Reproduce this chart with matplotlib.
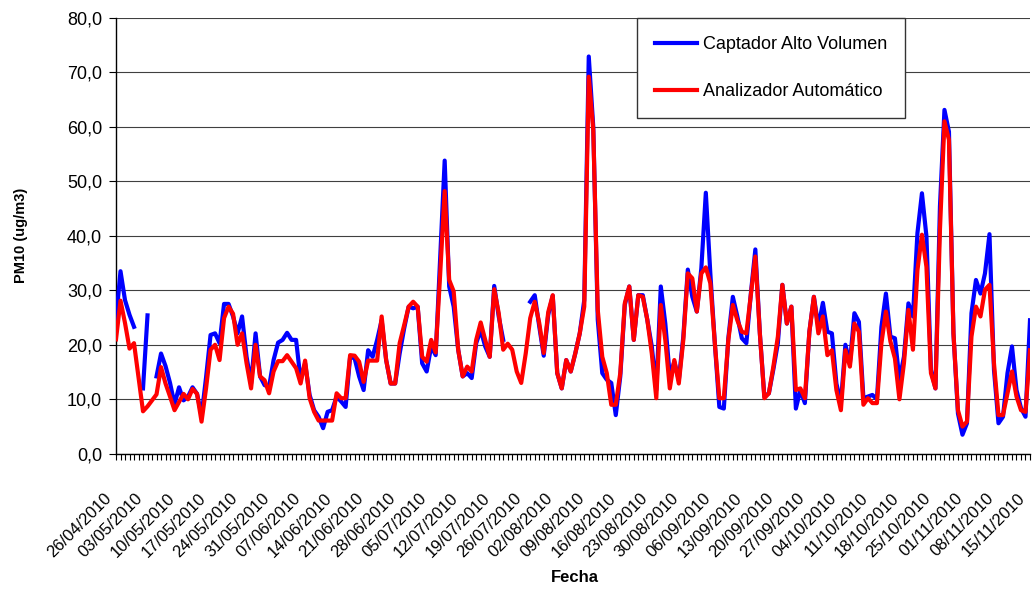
import matplotlib
matplotlib.use('Agg')
import matplotlib.pyplot as plt
import matplotlib.transforms as mtransforms
import numpy as np
import pandas as pd

START_DATE = '2010-04-26'

# PM10 daily values (None = no sample that day)
captador = [
    24.5, 33.5, 28.2, 25.5, 23.3, None, 12.0, 25.4, None, 14.2,
    18.4, 16.1, 13.0, 9.1, 12.2, 9.8, 10.5, 12.2, 11.0, 7.0,
    14.0, 21.8, 22.1, 20.3, 27.5, 27.5, 25.2, 22.1, 25.2, 17.8,
    12.9, 22.1, 14.2, 12.6, 12.3, 17.2, 20.4, 20.9, 22.2, 20.9,
    20.9, 13.5, 16.6, 10.8, 8.0, 6.8, 4.7, 7.7, 8.0, 10.5,
    9.6, 8.6, 17.8, 17.5, 14.2, 11.7, 19.0, 17.8, 20.9, 24.5,
    17.2, 12.9, 12.9, 18.4, 23.0, 27.0, 26.7, 27.0, 16.6, 15.1,
    19.7, 18.1, 36.0, 53.8, 30.7, 27.0, 19.1, 14.2, 14.8, 13.9,
    20.3, 22.7, 19.7, 17.8, 30.8, 25.2, 20.9, None, None, None,
    None, None, 27.9, 29.1, 23.4, 18.0, 25.5, 29.0, 14.8, 12.0,
    17.2, 15.1, 18.4, 22.1, 28.2, 72.9, 60.0, 24.6, 14.8, 13.6,
    13.0, 7.1, 14.2, 27.3, 30.7, 20.9, 29.1, 29.1, 24.6, 19.7,
    11.7, 30.7, 23.9, 14.2, 16.9, 13.5, 21.5, 33.8, 28.8, 26.1,
    34.0, 47.9, 33.1, 20.3, 8.6, 8.3, 21.2, 28.8, 25.2, 21.2,
    20.3, 29.4, 37.5, 22.1, 10.5, 11.1, 15.5, 20.3, 31.0, 23.9,
    27.0, 8.3, 11.7, 9.3, 22.4, 28.8, 23.3, 27.7, 22.4, 22.1,
    12.9, 9.3, 20.0, 16.6, 25.8, 24.2, 10.2, 10.5, 10.8, 10.0,
    23.3, 29.4, 21.5, 21.2, 13.6, 17.8, 27.6, 25.2, 40.5, 47.8,
    39.9, 15.4, 12.0, 45.4, 63.1, 59.1, 22.1, 7.4, 3.5, 5.6,
    25.8, 31.9, 29.4, 33.1, 40.3, 15.4, 5.6, 6.8, 14.8, 19.7,
    11.7, 8.4, 6.8, 24.5,
]

analizador = [
    21.0, 28.1, 24.0, 19.3, 20.3, 14.0, 7.8, 8.7, 9.8, 10.9,
    15.9, 12.9, 10.5, 8.0, 9.5, 11.0, 10.0, 11.9, 11.0, 5.9,
    12.0, 19.1, 20.0, 17.2, 24.9, 27.0, 25.7, 20.0, 22.1, 16.6,
    12.0, 20.0, 14.2, 13.5, 11.1, 15.1, 17.0, 17.0, 18.1, 16.9,
    15.7, 12.9, 17.1, 10.2, 7.7, 6.1, 6.1, 6.1, 6.1, 11.1,
    10.2, 10.2, 18.1, 18.0, 16.9, 13.2, 17.1, 17.1, 17.1, 25.2,
    17.2, 12.9, 12.9, 20.3, 23.6, 27.0, 27.9, 27.0, 17.8, 16.9,
    20.9, 18.6, 33.0, 48.2, 31.9, 29.8, 19.1, 14.2, 16.0, 15.1,
    20.9, 24.1, 20.9, 17.8, 30.2, 25.8, 19.1, 20.2, 19.1, 15.1,
    13.0, 18.4, 24.9, 27.9, 24.0, 18.5, 26.0, 29.1, 14.8, 12.0,
    17.2, 15.1, 18.4, 22.1, 27.0, 69.2, 59.4, 26.4, 17.8, 14.8,
    9.0, 9.0, 14.8, 27.6, 30.7, 20.9, 29.1, 28.8, 24.6, 18.4,
    10.2, 27.3, 20.9, 12.0, 17.2, 12.9, 20.9, 33.1, 32.2, 26.1,
    33.1, 34.2, 31.3, 20.3, 10.2, 10.2, 20.9, 27.3, 24.5, 22.4,
    22.1, 29.1, 36.2, 22.1, 10.2, 11.1, 16.0, 21.5, 31.0, 23.9,
    27.0, 11.7, 12.0, 10.2, 22.4, 28.8, 22.1, 25.2, 18.1, 19.0,
    11.7, 8.0, 19.0, 16.0, 23.9, 22.4, 9.0, 10.2, 9.3, 9.3,
    20.3, 26.1, 20.6, 17.5, 10.0, 16.6, 26.4, 19.1, 33.7, 40.2,
    34.3, 14.8, 12.0, 41.1, 61.0, 57.6, 22.1, 8.0, 5.0, 5.9,
    21.5, 27.0, 25.2, 30.1, 31.0, 16.6, 7.1, 7.1, 11.1, 15.1,
    10.5, 8.0, 7.7, 19.0,
]

series_names = ['Captador Alto Volumen', 'Analizador Automático']
series_colors = ['#0000ff', '#ff0000']
y_ticks = np.arange(0, 81, 10)

dates = pd.date_range(START_DATE, periods=len(captador), freq='D')
x = np.arange(len(dates))
tick_pos = x[::7]
tick_labels = [d.strftime('%d/%m/%Y') for d in dates[::7]]

plt.rcParams['font.family'] = ['Liberation Sans', 'DejaVu Sans']

fig = plt.figure(figsize=(10.32, 5.9), dpi=100)
ax = fig.add_axes([116 / 1032, 1 - 453.8 / 590, 914 / 1032, 436 / 590])

for values, name, color in zip([captador, analizador], series_names, series_colors):
    ax.plot(x, np.array(values, dtype=float), color=color, lw=3.0, label=name,
            solid_joinstyle='round', zorder=3)

ax.set_xlim(x[0], x[-1])
ax.set_ylim(0, 80)
ax.set_yticks(y_ticks)
ax.set_yticklabels([f'{v:.1f}'.replace('.', ',') for v in y_ticks], fontsize=13)
ax.grid(axis='y', color='#404040', lw=0.8)
ax.set_axisbelow(True)

ax.set_xticks(tick_pos)
ax.set_xticklabels(tick_labels, fontsize=12, rotation=45, ha='right',
                   va='center', rotation_mode='anchor')
ax.set_xticks(x, minor=True)
ax.tick_params(axis='x', which='both', direction='out', length=4, width=0.8, pad=26)
ax.tick_params(axis='y', direction='out', length=5, width=0.8, pad=5)
shift = mtransforms.ScaledTranslation(-7 / 100, 0, fig.dpi_scale_trans)
for lab in ax.get_xticklabels():
    lab.set_transform(lab.get_transform() + shift)

for side in ['top', 'right']:
    ax.spines[side].set_visible(False)
for side in ['left', 'bottom']:
    ax.spines[side].set_color('black')
    ax.spines[side].set_linewidth(1.0)

fig.text(575 / 1032, 1 - 578 / 590, 'Fecha', ha='center', va='center',
         fontsize=12, fontweight='bold')
fig.text(21 / 1032, 1 - 235 / 590, 'PM10 (ug/m3)', ha='center', va='center',
         rotation=90, fontsize=10.5, fontweight='bold')

leg = ax.legend(loc='upper left', bbox_to_anchor=((637 - 116) / 914, 1.0),
                borderaxespad=0, fontsize=13, handlelength=2.3,
                handletextpad=0.33, labelspacing=1.67, borderpad=1.0,
                fancybox=False, framealpha=1)
leg.get_frame().set_edgecolor('#333333')
leg.get_frame().set_linewidth(1.0)

fig.savefig('out.png', dpi=100)
